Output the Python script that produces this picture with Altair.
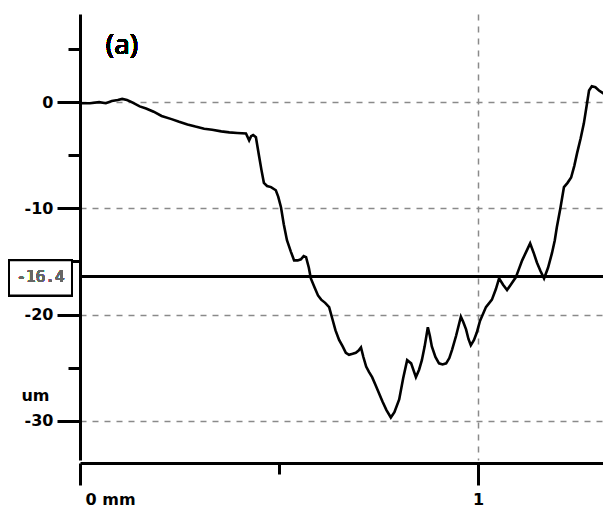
import altair as alt
import pandas as pd

# profile position (mm) and depth (um)
x_mm = [0.000, 0.025, 0.048, 0.065, 0.080, 0.095, 0.106, 0.118, 0.130, 0.150, 0.166, 0.185,
        0.205, 0.230, 0.249, 0.270, 0.290, 0.312, 0.332, 0.355, 0.375, 0.395, 0.417, 0.425,
        0.430, 0.435, 0.442, 0.450, 0.456, 0.462, 0.470, 0.480, 0.492, 0.498, 0.505, 0.512,
        0.520, 0.530, 0.538, 0.547, 0.555, 0.562, 0.568, 0.575, 0.580, 0.590, 0.598, 0.606,
        0.616, 0.626, 0.634, 0.642, 0.651, 0.660, 0.668, 0.676, 0.685, 0.693, 0.700, 0.706,
        0.712, 0.719, 0.726, 0.734, 0.742, 0.751, 0.760, 0.770, 0.781, 0.790, 0.802, 0.812,
        0.822, 0.832, 0.844, 0.852, 0.859, 0.866, 0.874, 0.879, 0.884, 0.893, 0.902, 0.911,
        0.920, 0.928, 0.935, 0.945, 0.957, 0.963, 0.970, 0.976, 0.982, 0.990, 0.997, 1.005,
        1.012, 1.020, 1.035, 1.045, 1.053, 1.063, 1.073, 1.084, 1.095, 1.103, 1.111, 1.121,
        1.131, 1.140, 1.148, 1.157, 1.166, 1.176, 1.186, 1.193, 1.198, 1.207, 1.216, 1.225,
        1.234, 1.242, 1.249, 1.258, 1.266, 1.274, 1.279, 1.286, 1.295, 1.304, 1.316, 1.329]
depth_um = [-0.1, -0.1, 0.0, -0.1, 0.1, 0.2, 0.3, 0.2, 0.0, -0.4, -0.6, -0.9,
            -1.3, -1.6, -1.85, -2.1, -2.3, -2.5, -2.6, -2.75, -2.85, -2.9, -2.95, -3.6,
            -3.2, -3.1, -3.3, -5.1, -6.4, -7.6, -7.9, -8.0, -8.3, -8.9, -9.9, -11.5,
            -13.0, -14.1, -14.9, -14.9, -14.8, -14.5, -14.6, -15.6, -16.6, -17.5, -18.2, -18.6,
            -18.9, -19.3, -20.4, -21.5, -22.4, -23.0, -23.6, -23.8, -23.7, -23.6, -23.4, -23.1,
            -24.0, -24.9, -25.4, -25.9, -26.6, -27.4, -28.2, -29.0, -29.7, -29.2, -28.0, -26.0,
            -24.3, -24.6, -25.9, -25.2, -24.3, -23.0, -21.2, -22.0, -23.0, -24.0, -24.6, -24.7,
            -24.6, -24.1, -23.3, -22.0, -20.2, -20.7, -21.4, -22.3, -22.9, -22.4, -21.7, -20.6,
            -20.0, -19.3, -18.6, -17.6, -16.6, -17.2, -17.7, -17.1, -16.5, -15.7, -14.9, -14.1,
            -13.3, -14.2, -15.1, -15.9, -16.6, -15.6, -14.2, -13.0, -11.8, -10.0, -8.0, -7.6,
            -7.1, -6.0, -4.8, -3.4, -2.0, -0.1, 1.1, 1.5, 1.4, 1.1, 0.8, 0.5]

ref_level = -16.4
ref_label = "-16.4"
y_ticks = [-30, -25, -20, -15, -10, -5, 0, 5]
x_ticks = [0, 0.5, 1]
panel_label = "(a)"
y_unit = "um"

df = pd.DataFrame({"x": x_mm, "y": depth_um})

xscale = alt.Scale(domain=[0, 1.3141], nice=False, zero=False)
yscale = alt.Scale(domain=[-33.7, 8.3], nice=False, zero=False)

x_axis = alt.Axis(
    values=x_ticks, title=None, offset=3,
    domainColor="black", domainWidth=3,
    tickColor="black", tickWidth=3,
    tickSize={"condition": {"test": "datum.value == 0.5", "value": 11}, "value": 22},
    labelExpr="datum.value == 0 ? '0 mm' : (datum.value == 1 ? '1' : '')",
    labelAlign={"condition": {"test": "datum.value == 0", "value": "left"}, "value": "center"},
    labelOffset={"condition": {"test": "datum.value == 0", "value": 5}, "value": 0},
    labelFont="DejaVu Sans", labelFontSize=16, labelFontWeight="bold", labelColor="black",
    labelPadding=6, labelFlush=False, labelOverlap=False,
    grid=True, gridColor="#8a8a8a", gridDash=[6, 6], gridWidth=1.5,
    gridOpacity={"condition": {"test": "datum.value == 1", "value": 1}, "value": 0},
)

y_axis = alt.Axis(
    values=y_ticks, title=y_unit, titleAngle=0, titleX=-45, titleY=381,
    titleAlign="center", titleBaseline="middle",
    titleFont="DejaVu Sans", titleFontSize=16, titleFontWeight="bold", titleColor="black",
    domainColor="black", domainWidth=3,
    tickColor="black", tickWidth=3,
    tickSize={"condition": {"test": "datum.value % 10 == 0", "value": 23}, "value": 12},
    labelExpr="datum.value % 10 == 0 ? toString(datum.value) : ''",
    labelFont="DejaVu Sans", labelFontSize=16, labelFontWeight="bold", labelColor="black",
    labelPadding=4, labelFlush=False, labelOverlap=False,
    grid=True, gridColor="#8a8a8a", gridDash=[6, 6], gridWidth=1.5,
    gridOpacity={"condition": {"test": "datum.value % 10 == 0", "value": 1}, "value": 0},
)

line = alt.Chart(df).mark_line(color="black", strokeWidth=2.6, clip=True).encode(
    x=alt.X("x:Q", scale=xscale, axis=x_axis),
    y=alt.Y("y:Q", scale=yscale, axis=y_axis),
)

rule = alt.Chart(df).mark_rule(color="black", strokeWidth=2.5).encode(
    y=alt.datum(ref_level)
)

box = alt.Chart(df).mark_rect(fill="white", stroke="black", strokeWidth=2).encode(
    x=alt.value(-71), x2=alt.value(-8),
    y=alt.datum(ref_level + 1.5), y2=alt.datum(ref_level - 1.8),
)

box_text = alt.Chart(df).mark_text(
    font="DejaVu Sans Mono", fontSize=16, color="#666666"
).encode(
    x=alt.value(-39.5), y=alt.datum(ref_level - 0.1), text=alt.value(ref_label)
)

panel = alt.Chart(df).mark_text(
    font="Noto Sans", fontSize=28, color="black", fontWeight="normal"
).encode(
    x=alt.value(42), y=alt.value(32), text=alt.value(panel_label)
)

chart = alt.layer(rule, line, box, box_text, panel).properties(
    width=523, height=446,
    autosize=alt.AutoSizeParams(type="none"),
    padding={"left": 72, "top": 6, "right": 0, "bottom": 50},
    background="white",
).configure_view(stroke=None)

chart.save("out.html", embed_options={"renderer": "svg", "actions": False})
